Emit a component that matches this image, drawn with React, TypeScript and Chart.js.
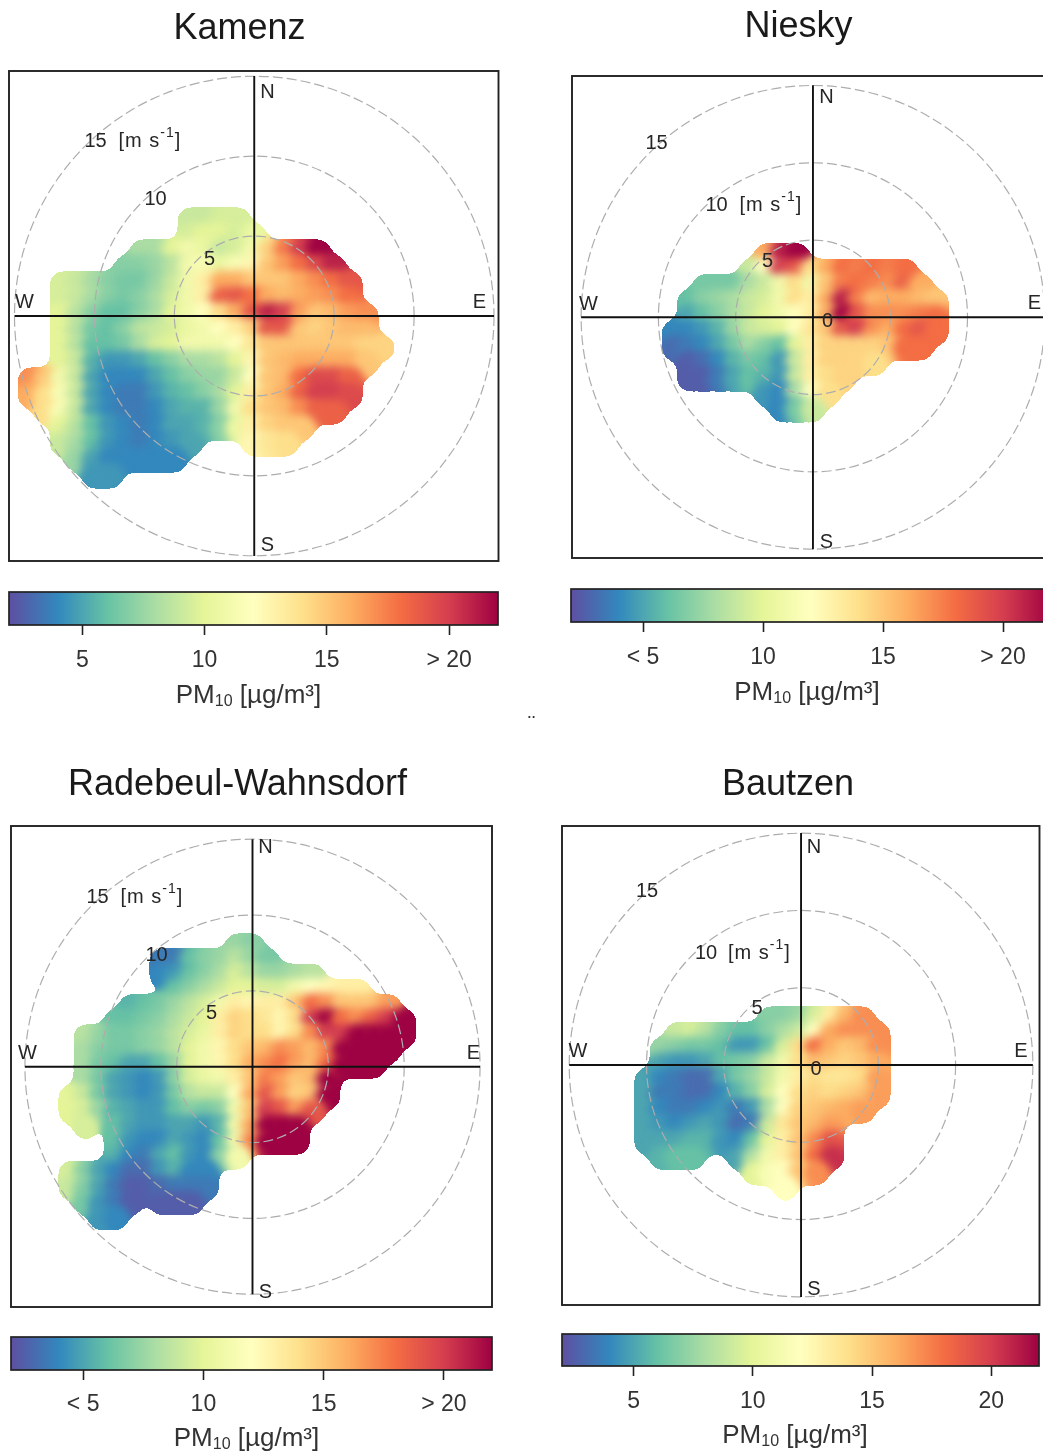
import React, { useEffect, useRef } from "react";
import { Chart, registerables } from "chart.js";

Chart.register(...registerables);

// PM10 (µg/m³) read from the maps. Rows run north to south in 1 m/s steps, columns west to east. 0 = no data.
const kamenzFirstU = -14;
const kamenzFirstV = 6;
const kamenzPM = [
  [0,0,0,0,0,0,0,0,0,0,9,9,9.5,9.5],
  [0,0,0,0,0,0,0,0,0,0,9.5,10,10,9.5,10.5],
  [0,0,0,0,0,0,0,8,8,10,11,10.5,9,9.5,11,14.5,17.5,20,22],
  [0,0,0,0,0,0,7,7,7.5,8.5,11,11.5,10.5,11.5,12.5,15,16.5,18,19.5,21],
  [0,0,9.5,9,8,7,6.5,6.5,7.5,9,11,13,16,16,15,15,15,16,17,18,19],
  [0,0,9.5,9,8,7,6.5,7,8,9.5,11,13,18.5,19,18,16,15.5,16,16.5,17,18],
  [0,0,10,8.5,7,6,6,7,8,10,11,12,14,16,19,21,20,16.5,15,15.5,16.5,17],
  [0,0,10,8.5,6.5,6,7,8.5,9,9.5,10.5,11,12,13,14.5,19,19,15,14.5,15,15.5,15.5],
  [0,0,10,8.5,6,6,6.5,8,9.5,10,11,11,11,12,13.5,15,15,15,15,15,15,14.5,14.5],
  [0,0,10,9,5.5,4.5,4.5,5,6,7,8,8,8.5,10,12.5,15,15.5,16,16,16,16,15],
  [17,15,11,9,5,4,4,4,5,6,7,7.5,7.5,9,12,15,15.5,18,19.5,19.5,18.5],
  [16,14,11.5,9,5,4,3.5,3.5,4.5,5.5,6,7,8,10,13,15,16,18.5,20,20,19.5],
  [0,14,11.5,9,5,4,3.5,3.5,4,5,5.5,5.5,7.5,11,14,15,15.5,17,18.5,18.5],
  [0,0,10,8.5,6,4.5,4,3.5,4,5,5,5.5,7,10.5,13,14.5,15,15],
  [0,0,9,8,6,4.5,4,3.5,4,4.5,5,0,0,0,12.5,13.5,14],
  [0,0,0,7.5,5,4,4,4,4,4],
  [0,0,0,0,4.5,4.5],
];

const nieskyFirstU = -9;
const nieskyFirstV = 4;
const nieskyPM = [
  [0,0,0,0,0,0,16,21,22],
  [0,0,0,0,0,9,12,20,19,14,16,18,17.5,18,17.5,18],
  [0,0,6.5,6.5,6.5,8,9,11,14,11,15,17.5,18,17.5,17,18.5,16],
  [0,6,7,7.5,8,9,9.5,11,14,13,16,21,17.5,15.5,16,16,15.5,15],
  [0,5,6,7,8,9,10,11,12,13,16,22,19,17,17,17,17.5,18],
  [4,4,4.5,5.5,7.5,9,9.5,10,12,13.5,15,19,20,17,16,18,19,18],
  [3,3.5,4,5,6.5,8,7,6,10,13,14.5,14.5,14.5,14.5,15,18,18],
  [0,2.5,3,4,5.5,6.5,6,4.5,9,13,14.5,14.5,14.5,14],
  [0,2.5,2.5,3.5,5,6,5.5,4.5,9,13,14,14.5],
  [0,0,0,0,0,0,4.5,4,8,12,14],
  [0,0,0,0,0,0,0,4,6.5,9],
];

const radebeulFirstU = -12;
const radebeulFirstV = 8;
const radebeulPM = [
  [0,0,0,0,0,0,0,0,0,0,0,7.5,7],
  [0,0,0,0,0,0,3.5,3.5,6,7,7.5,8.5,7.5,6.5],
  [0,0,0,0,0,0,4,4.5,6,7,8,9.5,8.5,7.5,7.5,8,8.5],
  [0,0,0,0,0,0,0,6,7,8,9,10,10,9.5,9.5,11,12,12.5,13,13],
  [0,0,0,0,5.5,6,6.5,7.5,8.5,9.5,11,13,12.5,13,13,15,18,17,15,15,15,16.5],
  [0,0,0,6,6,6.5,7,8,9,10,13,14.5,14,13.5,12.5,14,20,22,18,17,18.5,20,22],
  [0,8.5,7.5,6.5,6.5,7,7.5,8.5,9.5,10.5,13,14.5,14,14,12.5,14,17,20,20,22,22,22,22],
  [0,8,7,6.5,6.5,7,7.5,8.5,10,11,12.5,14,15,15.5,17,16.5,15.5,17,22,22,22,22],
  [0,8,6.5,6,5,5,6,7.5,10,11,12.5,14,16,17,18,16.5,15.5,18,22,22,22],
  [0,8,6.5,5,4.5,4,4.5,7,9.5,10.5,11,13,15,17.5,16.5,15,15.5,22],
  [10,9,6.5,5,4.5,4,4.5,6.5,8.5,9,9,12,16,19,16.5,14.5,15,22],
  [10,9.5,7.5,5.5,5,4.5,4.5,6,7,6.5,7,11,15,20,19,16.5,19],
  [0,9.5,0,6,5,4.5,4.5,5,5,4.5,5.5,11,16,22,22,22],
  [0,0,0,6,4.5,4,4,5,4.5,4,6,11,17,22,22,22],
  [0,0,0,5.5,4,3.5,5,6,4.5,4,7,11],
  [9.5,7,5,4,3,3,4.5,5.5,4,4],
  [9,7,5,3.5,2.5,2.5,3,3.5,3.5,3.5],
  [0,6.5,4.5,3.5,2.5,0,2.5,2.5,2.5],
  [0,0,4.5,4],
];

const bautzenFirstU = -10;
const bautzenFirstV = 3;
const bautzenPM = [
  [0,0,0,0,0,0,0,0,7,7,7.5,9.5,13,15.5,17],
  [0,0,9,9.5,8.5,7,6,6,7,8,9,12,16,17,17,17],
  [0,7.5,7,6.5,6.5,6,4.5,4.5,6,9.5,14,18,16,15,15.5,17],
  [0,5,4.5,4.5,5,6,6.5,7,9,11,14,15.5,15,14.5,15,16],
  [5,4,3.5,3,3,5,6.5,7.5,9,11,13,14,13.5,13.5,14,16.5],
  [5,3.5,3.5,3,3,4,5.5,7,9.5,12,14,14.5,14,14.5,15,16.5],
  [5,4,3.5,3.5,4,4.5,3.5,4.5,8,12,14.5,15,15.5,16,16.5],
  [5,4.5,4,4.5,5,4.5,3,3.5,9,13.5,15,15.5,16.5],
  [5,5,5,5.5,5.5,4.5,4,6,10,13,15,17,19],
  [0,5.5,6,6,0,0,5,8,11,13,15,18,20.5],
  [0,0,0,0,0,0,0,10,11.5,12,15,17],
  [0,0,0,0,0,0,0,0,0,12],
];

const ringSpeeds = [5, 10, 15];
const colorbarRange = [2, 22];
const colorbarTicks = [5, 10, 15, 20];
const kamenzTickLabels = ["5", "10", "15", "> 20"];
const nieskyTickLabels = ["< 5", "10", "15", "> 20"];
const radebeulTickLabels = ["< 5", "10", "15", "> 20"];
const bautzenTickLabels = ["5", "10", "15", "20"];

const spectral = ["#5e4fa2","#3288bd","#66c2a5","#abdda4","#e6f598","#ffffbf","#fee08b","#fdae61","#f46d43","#d53e4f","#9e0142"];
const FONT = '"Liberation Sans", Arial, sans-serif';
const TEXT = "#262626";

function hexToRgb(h: string) {
  return [1, 3, 5].map((i) => parseInt(h.slice(i, i + 2), 16));
}
function colorOf(v: number) {
  const t = Math.max(0, Math.min(1, (v - colorbarRange[0]) / (colorbarRange[1] - colorbarRange[0]))) * (spectral.length - 1);
  const i = Math.min(spectral.length - 2, Math.floor(t));
  const a = hexToRgb(spectral[i]);
  const b = hexToRgb(spectral[i + 1]);
  const f = t - i;
  return `rgb(${a.map((c, k) => Math.round(c + (b[k] - c) * f)).join(",")})`;
}

type Lab = [string, number, number];
const panels: any[] = [
  { title: "Kamenz", titleX: 239, titleY: 28, rows: kamenzPM, u0: kamenzFirstU, v0: kamenzFirstV,
    frame: [8.5, 71, 498, 561], c: [254, 316], px: 16,
    labels: [["N",267,92],["S",267,545],["W",24,302],["E",479,302],["15",95,141],["10",155,199],["5",209,259]] as Lab[], unit: [118, 141],
    bar: [8.5, 592, 498, 625], tickLabels: kamenzTickLabels, pmX: 248, labelY: 659, pmY: 696 },
  { title: "Niesky", titleX: 798, titleY: 26, rows: nieskyPM, u0: nieskyFirstU, v0: nieskyFirstV,
    frame: [571.5, 76, 1054, 558], c: [812.7, 317.3], px: 15.47,
    labels: [["N",826,97],["S",826,542],["W",588,304],["E",1034,303],["15",656,143],["10",716,205],["5",767,261],["0",827,321]] as Lab[], unit: [739, 205],
    bar: [571, 589, 1051, 622], tickLabels: nieskyTickLabels, pmX: 807, labelY: 656, pmY: 693 },
  { title: "Radebeul-Wahnsdorf", titleX: 237, titleY: 784, rows: radebeulPM, u0: radebeulFirstU, v0: radebeulFirstV,
    frame: [10.5, 826, 491.5, 1307], c: [252, 1066.7], px: 15.17,
    labels: [["N",265,847],["S",265,1292],["W",27,1053],["E",473,1053],["15",97,897],["10",156,955],["5",211,1013]] as Lab[], unit: [120, 897],
    bar: [10.5, 1337, 491.5, 1370], tickLabels: radebeulTickLabels, pmX: 246, labelY: 1403, pmY: 1439 },
  { title: "Bautzen", titleX: 788, titleY: 784, rows: bautzenPM, u0: bautzenFirstU, v0: bautzenFirstV,
    frame: [562, 826, 1039.5, 1305], c: [801.3, 1065], px: 15.47,
    labels: [["N",814,847],["S",814,1289],["W",578,1051],["E",1021,1051],["15",647,891],["10",706,953],["5",757,1008],["0",816,1069]] as Lab[], unit: [728, 953],
    bar: [562, 1334, 1039.5, 1366], tickLabels: bautzenTickLabels, pmX: 795, labelY: 1400, pmY: 1436 },
];

const PAD = 6;
const TITLE_SPACE = 70;

function pointsOf(rows: number[][], u0: number, v0: number) {
  const pts: { x: number; y: number; v: number }[] = [];
  rows.forEach((row, j) =>
    row.forEach((v, i) => {
      if (v > 0) pts.push({ x: u0 + i, y: v0 - j, v });
    })
  );
  return pts;
}

// Rounds off the outline of the drawn discs: blur the layer, then keep what is above half coverage.
function roundOutline(chart: any) {
  const cv = chart.canvas as HTMLCanvasElement;
  const off = document.createElement("canvas");
  off.width = cv.width;
  off.height = cv.height;
  const octx = off.getContext("2d")!;
  octx.filter = "blur(6px)";
  octx.drawImage(cv, 0, 0);
  const img = octx.getImageData(0, 0, cv.width, cv.height);
  const d = img.data;
  for (let i = 3; i < d.length; i += 4) d[i] = d[i] >= 128 ? 255 : 0;
  chart.ctx.putImageData(img, 0, 0);
}

function makePanel(canvas: HTMLCanvasElement, p: any) {
  const [l, t, r, b] = p.frame;
  const ox = l - PAD;
  const oy = t - TITLE_SPACE;
  const pts = pointsOf(p.rows, p.u0, p.v0);
  const colors = pts.map((q) => colorOf(q.v));
  return new Chart(canvas, {
    type: "scatter",
    data: {
      datasets: [
        { label: p.title + " smooth", data: pts, pointRadius: p.px * 0.85, pointBackgroundColor: colors, pointBorderWidth: 0 },
        { label: p.title, data: pts, pointRadius: p.px * 0.85, pointBackgroundColor: colors, pointBorderWidth: 0 },
      ],
    },
    options: {
      animation: false,
      responsive: false,
      events: [],
      devicePixelRatio: 1,
      layout: { autoPadding: false, padding: { left: PAD, right: PAD, top: TITLE_SPACE, bottom: PAD } },
      plugins: { legend: { display: false }, tooltip: { enabled: false }, title: { display: false } },
      scales: {
        x: { type: "linear", display: false, bounds: "data", min: (l - p.c[0]) / p.px, max: (r - p.c[0]) / p.px },
        y: { type: "linear", display: false, bounds: "data", min: (p.c[1] - b) / p.px, max: (p.c[1] - t) / p.px },
      },
    },
    plugins: [
      {
        id: "polarLayers",
        beforeDatasetDraw(chart: any, args: any) {
          if (args.index === 0) {
            chart.ctx.globalCompositeOperation = "source-atop";
            chart.ctx.filter = "blur(5px)";
          }
        },
        afterDatasetDraw(chart: any, args: any) {
          if (args.index === 0) {
            chart.ctx.globalCompositeOperation = "source-over";
            chart.ctx.filter = "none";
          } else {
            roundOutline(chart);
          }
        },
        afterDatasetsDraw(chart: any) {
          const ctx = chart.ctx as CanvasRenderingContext2D;
          const xs = chart.scales.x;
          const ys = chart.scales.y;
          const x0 = xs.getPixelForValue(0);
          const y0 = ys.getPixelForValue(0);
          ctx.save();
          ctx.strokeStyle = "#adadad";
          ctx.lineWidth = 1.2;
          ctx.setLineDash([10, 4]);
          ringSpeeds.forEach((s) => {
            ctx.beginPath();
            ctx.arc(x0, y0, Math.abs(xs.getPixelForValue(s) - x0), 0, Math.PI * 2);
            ctx.stroke();
          });
          ctx.setLineDash([]);
          ctx.strokeStyle = "#111";
          ctx.lineWidth = 1.9;
          ctx.beginPath();
          ctx.moveTo(xs.getPixelForValue(-15), y0);
          ctx.lineTo(xs.getPixelForValue(15), y0);
          ctx.moveTo(x0, ys.getPixelForValue(15));
          ctx.lineTo(x0, ys.getPixelForValue(-15));
          ctx.stroke();
          ctx.lineWidth = 1.9;
          ctx.strokeStyle = "#222";
          ctx.strokeRect(l - ox, t - oy, r - l, b - t);

          ctx.fillStyle = TEXT;
          ctx.textBaseline = "middle";
          ctx.textAlign = "center";
          ctx.font = `20px ${FONT}`;
          p.labels.forEach(([s, x, y]: Lab) => ctx.fillText(s, x - ox, y - oy));
          // unit label
          ctx.textAlign = "left";
          (ctx as any).letterSpacing = "1px";
          let ux = p.unit[0] - ox;
          const uy = p.unit[1] - oy;
          ctx.fillText("[m s", ux, uy);
          ux += ctx.measureText("[m s").width;
          ctx.font = `14px ${FONT}`;
          ctx.fillText("-1", ux, uy - 8);
          ux += ctx.measureText("-1").width;
          ctx.font = `20px ${FONT}`;
          ctx.fillText("]", ux, uy);
          (ctx as any).letterSpacing = "0px";
          // panel title
          ctx.textAlign = "center";
          ctx.fillStyle = "#1a1a1a";
          ctx.font = `36px ${FONT}`;
          ctx.fillText(p.title, p.titleX - ox, p.titleY + 1 - oy);
          ctx.restore();
        },
      },
    ],
  } as any);
}

function makeBar(canvas: HTMLCanvasElement, p: any, h: number) {
  const [l, t, , b] = p.bar;
  const ox = l - 20;
  const oy = t - 4;
  return new Chart(canvas, {
    type: "bar",
    data: {
      labels: ["PM10"],
      datasets: [
        {
          data: [colorbarRange] as any,
          categoryPercentage: 1,
          barPercentage: 1,
          backgroundColor: (c: any) => {
            const a = c.chart.chartArea;
            if (!a) return spectral[0];
            const g = c.chart.ctx.createLinearGradient(a.left, 0, a.right, 0);
            spectral.forEach((col, i) => g.addColorStop(i / (spectral.length - 1), col));
            return g;
          },
        },
      ],
    },
    options: {
      indexAxis: "y",
      animation: false,
      responsive: false,
      events: [],
      devicePixelRatio: 1,
      layout: { autoPadding: false, padding: { left: 20, right: 20, top: 4, bottom: 0 } },
      plugins: { legend: { display: false }, tooltip: { enabled: false }, title: { display: false } },
      scales: {
        y: { display: false },
        x: {
          type: "linear",
          bounds: "data",
          min: colorbarRange[0],
          max: colorbarRange[1],
          border: { display: false },
          grid: { drawOnChartArea: false, drawTicks: true, tickLength: 10, tickColor: "#222", tickWidth: 1.6 },
          afterBuildTicks: (s: any) => {
            s.ticks = colorbarTicks.map((value) => ({ value }));
          },
          afterFit: (s: any) => {
            s.height = h - 4 - (b - t);
          },
          ticks: {
            autoSkip: false,
            maxRotation: 0,
            padding: p.labelY - b - 10 - 12,
            color: "#333",
            font: { family: FONT, size: 23 },
            callback: (_: any, i: number) => p.tickLabels[i],
          },
        },
      },
    },
    plugins: [
      {
        id: "barFrame",
        afterDraw(chart: any) {
          const ctx = chart.ctx as CanvasRenderingContext2D;
          const a = chart.chartArea;
          ctx.save();
          ctx.strokeStyle = "#222";
          ctx.lineWidth = 1.7;
          ctx.strokeRect(a.left, a.top, a.right - a.left, a.bottom - a.top);
          ctx.fillStyle = "#333";
          ctx.textBaseline = "middle";
          ctx.textAlign = "left";
          const parts: [string, number, number][] = [["PM", 26, 0], ["10", 16, 6], [" [µg/m³]", 26, 0]];
          let total = 0;
          parts.forEach(([s, f]) => {
            ctx.font = `${f}px ${FONT}`;
            total += ctx.measureText(s).width;
          });
          let x = p.pmX - total / 2 - ox;
          parts.forEach(([s, f, dy]) => {
            ctx.font = `${f}px ${FONT}`;
            ctx.fillText(s, x, p.pmY - oy + dy);
            x += ctx.measureText(s).width;
          });
          ctx.restore();
        },
      },
    ],
  } as any);
}

export default function App() {
  const panelRefs = useRef<(HTMLCanvasElement | null)[]>([]);
  const barRefs = useRef<(HTMLCanvasElement | null)[]>([]);

  useEffect(() => {
    const charts: Chart[] = [];
    panels.forEach((p: any, i: number) => {
      charts.push(makePanel(panelRefs.current[i]!, p));
      charts.push(makeBar(barRefs.current[i]!, p, p.pmY + 24 - (p.bar[1] - 4)));
    });
    return () => charts.forEach((c) => c.destroy());
  }, []);

  return (
    <div style={{ position: "absolute", left: 0, top: 0, width: 1043, height: 1455, overflow: "hidden", background: "#fff" }}>
      <div style={{ position: "absolute", left: 0, top: 0, width: 1043, height: 1455, filter: "blur(0.45px)" }}>
        {panels.map((p: any, i: number) => {
          const [l, t, r, b] = p.frame;
          return (
            <React.Fragment key={p.title}>
              <canvas
                ref={(el) => { panelRefs.current[i] = el; }}
                width={r - l + PAD * 2}
                height={b - t + TITLE_SPACE + PAD}
                style={{ position: "absolute", left: l - PAD, top: t - TITLE_SPACE, display: "block" }}
              />
              <canvas
                ref={(el) => { barRefs.current[i] = el; }}
                width={p.bar[2] - p.bar[0] + 40}
                height={p.pmY + 24 - (p.bar[1] - 4)}
                style={{ position: "absolute", left: p.bar[0] - 20, top: p.bar[1] - 4, display: "block" }}
              />
            </React.Fragment>
          );
        })}
        <div style={{ position: "absolute", left: 528, top: 711, font: `22px ${FONT}`, color: "#333" }}>¨</div>
      </div>
    </div>
  );
}
